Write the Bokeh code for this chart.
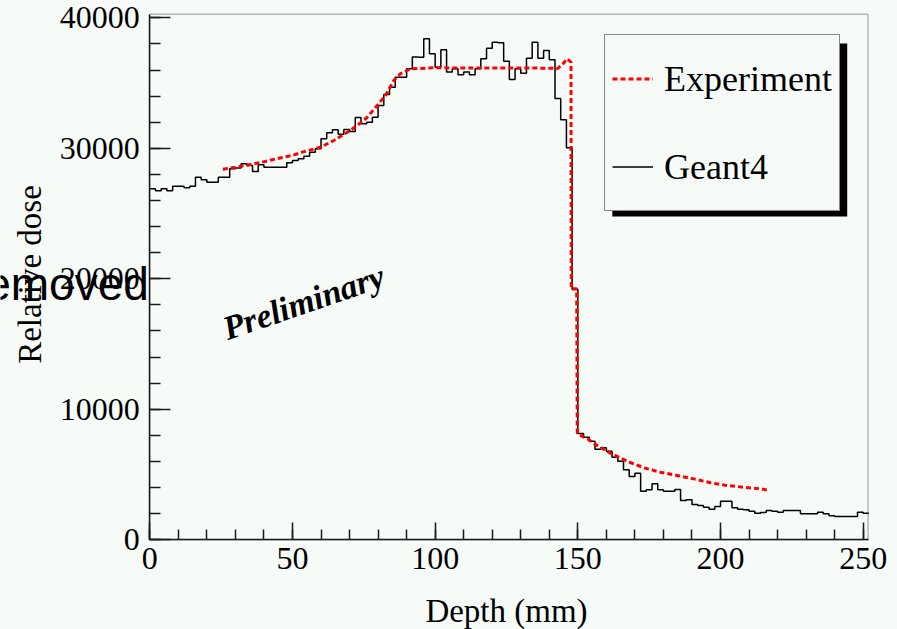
from bokeh.plotting import figure
from bokeh.models import (Range1d, FixedTicker, Legend, LegendItem, Label,
                          BoxAnnotation, BasicTickFormatter)
from bokeh.embed import file_html
from bokeh.resources import INLINE
import math

# ---------------- data ----------------
bin_width_mm = 2.0
geant4_dose = [
    26900, 26750, 26900, 26750, 27100, 27100, 26970, 27100, 27790, 27590,
    27400, 27400, 27790, 27790, 28430, 28500, 28810, 28680, 28220, 28740,
    28550, 28550, 28550, 28550, 28890, 29070, 29200, 29400, 29700, 29960,
    30730, 31190, 31420, 31080, 31440, 31290, 32360, 31880, 32000, 32380,
    33280, 34120, 34680, 35450, 35450, 36090, 37000, 36980, 38390, 37240,
    36220, 37560, 35840, 36090, 35630, 35840, 35630, 36090, 36860, 37670,
    38130, 38080, 36680, 35270, 36090, 35760, 36900, 38130, 36900, 37490,
    36780, 33810, 32180, 30040, 19180, 8150, 7860, 7550, 6930, 7050,
    6790, 6330, 6020, 5360, 4850, 5100, 3720, 3830, 4290, 3830,
    3720, 3720, 3850, 3010, 3060, 2700, 2630, 2500, 2340, 2550,
    2960, 2960, 2450, 2340, 2300, 2190, 2040, 2090, 2240, 2190,
    2110, 2240, 2240, 2240, 1990, 1990, 1990, 2110, 1990, 1840,
    1780, 1780, 1780, 1780, 2110, 2040,
]
geant4_edges = [i * bin_width_mm for i in range(len(geant4_dose) + 1)]

exp_depth = [25.6, 30.0, 34.7, 39.4, 45.2, 49.9, 54.3, 59.8, 64.5, 69.2,
             72.7, 76.2, 79.7, 82.6, 85.5, 87.8, 91.3, 100.0, 110.0, 120.0,
             130.0, 141.0, 142.7, 144.5, 146.2, 147.6, 147.7, 149.6, 149.8, 150.3,
             153.3, 156.8, 161.4, 167.3, 173.1, 178.9, 184.8, 190.6, 196.5, 202.3,
             208.1, 214.0, 217.2]
exp_dose = [28400, 28550, 28740, 28940, 29240, 29450, 29760, 30080, 30600, 31230,
            31750, 32380, 33280, 34050, 35200, 35710, 36090, 36170, 36150, 36150,
            36150, 36140, 36090, 36400, 36860, 36600, 19230, 19230, 8200, 8070,
            7740, 7230, 6640, 6020, 5520, 5180, 4930, 4670, 4370, 4160,
            4030, 3910, 3780]

x_major = [0, 50, 100, 150, 200, 250]
x_minor = list(range(0, 252, 10))
y_major = [0, 10000, 20000, 30000, 40000]
y_minor = list(range(0, 40001, 2000))

# histogram frame limits
x_lo, x_hi = 0.0, 251.7
y_lo, y_hi = 0.0, 40276.0

# ---------------- styling ----------------
BG = "#f7fbf8"
INK = "#1a1a1a"
SERIF = "Liberation Serif"

# the frame covers the whole canvas; axes are pinned at the histogram edges
p = figure(width=897, height=629, output_backend="svg", toolbar_location=None,
           title=None,
           x_range=Range1d(-52.32, 262.02), y_range=Range1d(-6874, 41326),
           min_border=0, min_border_left=0, min_border_right=0,
           min_border_top=0, min_border_bottom=0,
           background_fill_color=BG, border_fill_color=BG)
p.grid.visible = False
p.outline_line_color = None

r_g4 = p.step(geant4_edges, geant4_dose + [geant4_dose[-1]], mode="after",
              line_color="black", line_width=1.5)
r_exp = p.line(exp_depth, exp_dose, line_color="red", line_width=3,
               line_dash="5 3")

for ax in (p.xaxis[0], p.yaxis[0]):
    ax.axis_line_color = INK
    ax.axis_line_width = 1.5
    ax.major_tick_line_color = INK
    ax.major_tick_line_width = 1.5
    ax.minor_tick_line_color = INK
    ax.minor_tick_line_width = 1.5
    ax.major_tick_out = 0
    ax.minor_tick_out = 0
    ax.major_label_text_font = SERIF
    ax.major_label_text_font_size = "32px"
    ax.major_label_text_color = "black"

p.xaxis.fixed_location = y_lo
p.yaxis.fixed_location = x_lo
p.xaxis.bounds = (x_lo, x_hi)
p.yaxis.bounds = (y_lo, y_hi)
p.xaxis.ticker = FixedTicker(ticks=x_major, minor_ticks=x_minor)
p.yaxis.ticker = FixedTicker(ticks=y_major, minor_ticks=y_minor)
p.yaxis.formatter = BasicTickFormatter(use_scientific=False)
p.xaxis.formatter = BasicTickFormatter(use_scientific=False)
p.xaxis.major_tick_in = 17
p.xaxis.minor_tick_in = 10
p.yaxis.major_tick_in = 21
p.yaxis.minor_tick_in = 11
p.xaxis.major_label_standoff = 8
p.yaxis.major_label_standoff = 10

# top / right frame of the histogram
p.add_layout(BoxAnnotation(left=x_lo, right=x_hi, bottom=y_lo, top=y_hi,
                           fill_alpha=0, line_color=INK, line_width=1.5))

# axis titles
p.add_layout(Label(x=125.0, y=-5494, text="Depth (mm)", text_font=SERIF,
                   text_font_size="33px", text_color="black",
                   text_align="center", text_baseline="alphabetic"))
p.add_layout(Label(x=-41.9, y=20330, text="Relative dose", text_font=SERIF,
                   text_font_size="33px", text_color="black",
                   angle=math.pi / 2,
                   text_align="center", text_baseline="alphabetic"))

# legend shadow (drawn before the legend so it sits behind it)
p.add_layout(BoxAnnotation(left=162.1, right=244.4, top=38030, bottom=24774,
                           fill_color="black", fill_alpha=1.0, line_alpha=0))

legend = Legend(items=[LegendItem(label="Experiment", renderers=[r_exp]),
                       LegendItem(label="Geant4", renderers=[r_g4])],
                location=(604, 418), orientation="vertical",
                label_text_font=SERIF, label_text_font_size="36px",
                label_text_color="black",
                glyph_width=41, glyph_height=73, label_height=73,
                label_standoff=11, padding=7, spacing=15, margin=0,
                border_line_color=INK, border_line_width=1.5,
                background_fill_color=BG, background_fill_alpha=1.0)
p.add_layout(legend)

p.add_layout(Label(x=26.0, y=16115, text="Preliminary", angle=math.radians(19),
                   text_font=SERIF, text_font_style="bold italic",
                   text_font_size="34px", text_color="black",
                   text_align="left", text_baseline="alphabetic"))

p.add_layout(Label(x=-0.35, y=19625, text="removed",
                   text_font="Liberation Sans", text_font_size="46px",
                   text_color="black", text_align="right",
                   text_baseline="alphabetic"))

open("out.html", "w").write(file_html(p, INLINE, title="Relative dose"))
